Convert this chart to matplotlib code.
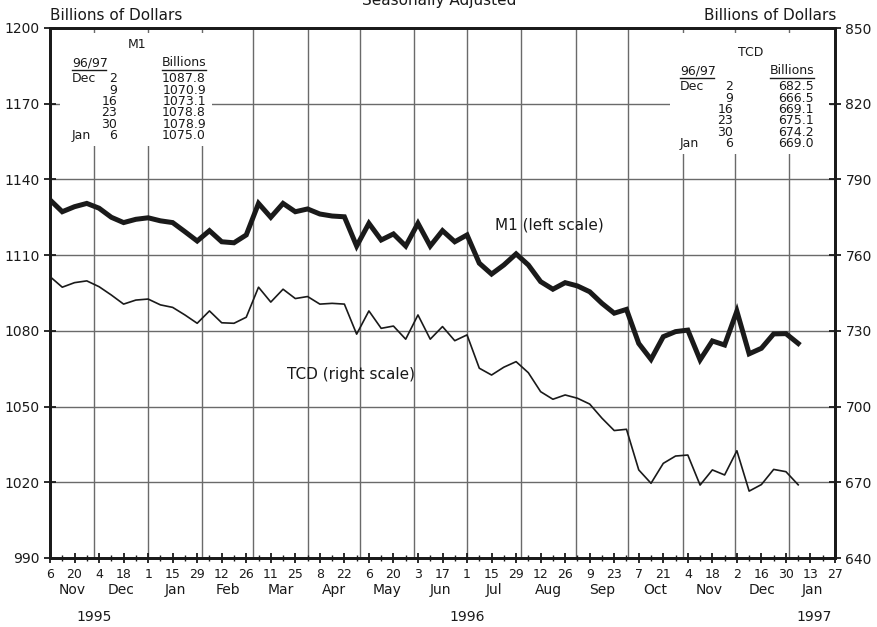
import numpy as np
import pandas as pd
import matplotlib
matplotlib.use("Agg")
import matplotlib.pyplot as plt
import matplotlib.dates as mdates
from matplotlib.patches import Rectangle
from matplotlib.lines import Line2D

# weekly data, week ending Mondays, Nov 6 1995 .. Jan 6 1997
weeks = pd.date_range("1995-11-06", periods=62, freq="7D")

m1 = [1131.9, 1127.2, 1129.2, 1130.5, 1128.6, 1125.0, 1122.9, 1124.2, 1124.8, 1123.6,
      1122.9, 1119.3, 1115.6, 1119.7, 1115.3, 1114.9, 1118.0, 1130.5, 1125.0, 1130.5,
      1127.2, 1128.3, 1126.3, 1125.5, 1125.2, 1113.6, 1122.6, 1116.0, 1118.4, 1113.6,
      1122.6, 1113.6, 1119.7, 1115.3, 1118.0, 1106.8, 1102.5, 1106.1, 1110.5, 1106.1,
      1099.5, 1096.5, 1099.1, 1097.8, 1095.5, 1090.9, 1087.0, 1088.5, 1075.0, 1068.7,
      1077.7, 1079.7, 1080.3, 1068.5, 1076.0, 1074.4, 1087.8, 1070.9, 1073.1, 1078.8,
      1078.9, 1075.0]

tcd = [751.5, 747.3, 749.1, 749.8, 747.5, 744.2, 740.6, 742.2, 742.6, 740.3,
       739.3, 736.3, 733.0, 737.9, 733.2, 733.0, 735.4, 747.3, 741.4, 746.5,
       742.8, 743.6, 740.6, 740.9, 740.6, 728.7, 737.9, 731.0, 731.9, 726.7,
       736.3, 726.7, 731.7, 726.1, 728.4, 715.2, 712.5, 715.6, 717.8, 713.4,
       705.9, 702.9, 704.6, 703.3, 701.0, 695.4, 690.5, 691.0, 674.9, 669.6,
       677.5, 680.4, 680.8, 668.9, 674.9, 672.9, 682.5, 666.5, 669.1, 675.1,
       674.2, 669.0]

table_dates = [("Dec", "2"), ("", "9"), ("", "16"), ("", "23"), ("", "30"), ("Jan", "6")]
m1_table = ["1087.8", "1070.9", "1073.1", "1078.8", "1078.9", "1075.0"]
tcd_table = ["682.5", "666.5", "669.1", "675.1", "674.2", "669.0"]

left_ticks = [990, 1020, 1050, 1080, 1110, 1140, 1170, 1200]
right_ticks = [640, 670, 700, 730, 760, 790, 820, 850]

W, H = 878, 627
fig = plt.figure(figsize=(W / 100, H / 100), dpi=100)
ax = fig.add_axes([50 / W, 1 - 558 / H, 785 / W, 530 / H])
ax2 = ax.twinx()

ink = "#1a1a1a"
grid_c = "#6a6a6a"

xmin = pd.Timestamp("1995-11-06")
xmax = pd.Timestamp("1997-01-27")
ax.set_xlim(xmin, xmax)
ax.set_ylim(990, 1200)
ax2.set_ylim(640, 850)

# grid: horizontal at value ticks, vertical at month starts
for v in left_ticks[1:-1]:
    ax.axhline(v, color=grid_c, lw=1.0, zorder=1)
for m in pd.date_range("1995-12-01", "1997-01-01", freq="MS"):
    ax.axvline(m, color=grid_c, lw=1.0, zorder=1)

# white boxes behind the inset tables
def fx(x):
    return x / W

def fy(y):
    return 1 - y / H

ax.add_patch(Rectangle((fx(60), fy(146)), fx(152), 113 / H, transform=fig.transFigure,
                       facecolor="white", edgecolor="none", zorder=1.5))
ax.add_patch(Rectangle((fx(670), fy(154)), fx(160), 121 / H, transform=fig.transFigure,
                       facecolor="white", edgecolor="none", zorder=1.5))

ax.plot(weeks, m1, color=ink, lw=3.6, zorder=3, solid_joinstyle="miter")
ax2.plot(weeks, tcd, color=ink, lw=1.2, zorder=3)

# x ticks
ax.xaxis.set_major_locator(mdates.DayLocator(interval=1))
major = pd.date_range(xmin, xmax, freq="14D")
minor = pd.date_range(xmin, xmax, freq="7D")
ax.set_xticks(major)
ax.set_xticklabels([str(d.day) for d in major])
ax.set_xticks(minor, minor=True)
ax.tick_params(axis="x", which="major", direction="inout", length=7, width=1.3,
               pad=4, labelsize=9, colors=ink)
ax.tick_params(axis="x", which="minor", direction="inout", length=5, width=1.0, colors=ink)

ax.set_yticks(left_ticks)
ax.tick_params(axis="y", direction="inout", length=9, width=1.3, pad=3, labelsize=10, colors=ink)
ax2.set_yticks(right_ticks)
ax2.tick_params(axis="y", direction="inout", length=9, width=1.3, pad=3, labelsize=10, colors=ink)

for a in (ax, ax2):
    for s in a.spines.values():
        s.set_linewidth(2.0)
        s.set_color(ink)

# month and year labels below the axis
months = pd.date_range("1995-11-01", "1997-01-01", freq="MS")
for m in months:
    a = max(m, xmin)
    b = min(m + pd.offsets.MonthBegin(1), xmax)
    c = a + (b - a) / 2
    ax.text(c, -0.060, m.strftime("%b"), transform=ax.get_xaxis_transform(),
            ha="center", va="center", fontsize=10, color=ink)
for d, yr in [("1995-12-01", "1995"), ("1996-07-01", "1996"), ("1997-01-15", "1997")]:
    ax.text(pd.Timestamp(d), -0.111, yr, transform=ax.get_xaxis_transform(),
            ha="center", va="center", fontsize=10, color=ink)

# headers
fig.text(fx(50), fy(16), "Billions of Dollars", ha="left", va="center", fontsize=11, color=ink)
fig.text(fx(836), fy(16), "Billions of Dollars", ha="right", va="center", fontsize=11, color=ink)
fig.text(0.5, fy(1), "Seasonally Adjusted", ha="center", va="center", fontsize=11, color=ink)

# inline series labels
fig.text(fx(495), fy(225), "M1 (left scale)", ha="left", va="center", fontsize=11, color=ink)
fig.text(fx(287), fy(375), "TCD (right scale)", ha="left", va="center", fontsize=11, color=ink)

# inset tables
def draw_table(title, tx, x_mon, x_day, x_val, y_title, y_head, y0, values):
    fig.text(fx(tx), fy(y_title), title, ha="center", va="center", fontsize=9, color=ink)
    t1 = fig.text(fx(x_mon), fy(y_head), "96/97", ha="left", va="center", fontsize=9, color=ink)
    t2 = fig.text(fx(x_val), fy(y_head), "Billions", ha="right", va="center", fontsize=9, color=ink)
    fig.lines.append(Line2D([fx(x_mon), fx(x_mon + 34)], [fy(y_head + 7)] * 2,
                            transform=fig.transFigure, color=ink, lw=1.0))
    fig.lines.append(Line2D([fx(x_val - 44), fx(x_val)], [fy(y_head + 7)] * 2,
                            transform=fig.transFigure, color=ink, lw=1.0))
    for i, ((mon, day), val) in enumerate(zip(table_dates, values)):
        y = y0 + i * 11.3
        if mon:
            fig.text(fx(x_mon), fy(y), mon, ha="left", va="center", fontsize=9, color=ink)
        fig.text(fx(x_day), fy(y), day, ha="right", va="center", fontsize=9, color=ink)
        fig.text(fx(x_val), fy(y), val, ha="right", va="center", fontsize=9, color=ink)

draw_table("M1", 137, 72, 117, 206, 45, 63, 79, m1_table)
draw_table("TCD", 751, 680, 733, 814, 52, 71, 87, tcd_table)

fig.savefig("out.png", dpi=100, facecolor="white")
